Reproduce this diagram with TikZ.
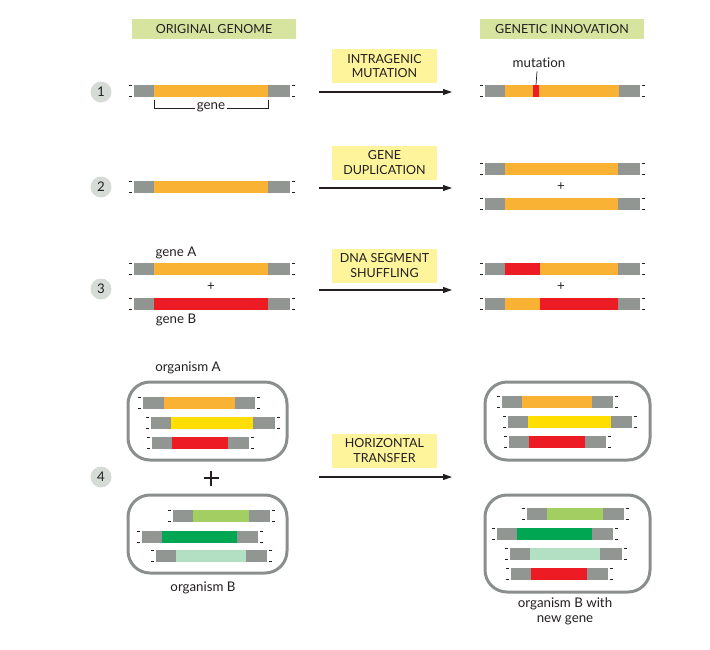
\documentclass[tikz,border=0pt]{standalone}
\usepackage{fontspec}
\setmainfont{Lato}[Ligatures=NoCommon]
\usetikzlibrary{arrows.meta,calc}
\definecolor{gbgray}{HTML}{919693}
\definecolor{gorange}{HTML}{F9B233}
\definecolor{gred}{HTML}{ED1C24}
\definecolor{gyellow}{HTML}{FFDE00}
\definecolor{glgreen}{HTML}{A3CF62}
\definecolor{ggreen}{HTML}{00A651}
\definecolor{gpale}{HTML}{B3DFC3}
\definecolor{headfill}{HTML}{D7E4A0}
\definecolor{labfill}{HTML}{FDF49B}
\definecolor{circfill}{HTML}{D5DCD6}
\definecolor{txt}{HTML}{231F20}
\definecolor{boxline}{HTML}{8A8F8C}
\tikzset{
  every node/.style={text=txt, font=\fontsize{13.3}{14.5}\selectfont},
  header/.style={fill=headfill, minimum width=164pt, minimum height=20pt, inner sep=0pt, font=\fontsize{12.5}{14}\selectfont},
  arrlabel/.style={fill=labfill, minimum width=105pt, minimum height=34pt, inner sep=0pt, align=center, font=\fontsize{12.5}{14.5}\selectfont},
  numcirc/.style={circle, fill=circfill, minimum size=21pt, inner sep=0pt},
  endmark/.style={draw=txt, line width=0.7pt},
  proc/.style={draw=txt, line width=1.1pt, -{Triangle[length=9pt,width=6pt]}},
  organism/.style={draw=boxline, line width=3pt, rounded corners=22pt},
}
% #1 y-centre, #2 x0, #3 gene start, #4 gene end, #5 x3, #6 colour
\newcommand\gbar[6]{%
  \fill[gbgray] (#2,#1-6) rectangle (#5,#1+6);
  \fill[#6] (#3,#1-6) rectangle (#4,#1+6);
  \draw[endmark] (#2-5,#1-5.5) -- ++(3,0) (#2-5,#1+5.5) -- ++(3,0);
  \draw[endmark] (#5+2,#1-5.5) -- ++(3,0) (#5+2,#1+5.5) -- ++(3,0);
}
\begin{document}
\begin{tikzpicture}[x=1pt,y=-1pt]
\useasboundingbox (0,0) rectangle (710,649);

% headers
\node[header] (h1) at (214,29) {ORIGINAL GENOME};
\node[header] (h2) at (562,29) {GENETIC INNOVATION};

% numbers
\node[numcirc] (n1) at (101,92) {1};
\node[numcirc] (n2) at (101,187) {2};
\node[numcirc] (n3) at (101,289) {3};
\node[numcirc] (n4) at (101,477) {4};

% process labels and arrows
\node[arrlabel] (l1) at (384.5,66) {INTRAGENIC\\MUTATION};
\node[arrlabel] (l2) at (384.5,162.5) {GENE\\DUPLICATION};
\node[arrlabel] (l3) at (384.5,265.5) {DNA SEGMENT\\SHUFFLING};
\node[arrlabel] (l4) at (384.5,450.5) {HORIZONTAL\\TRANSFER};
\coordinate (a1s) at (319,92);  \coordinate (a1e) at (452,92);
\coordinate (a2s) at (319,188); \coordinate (a2e) at (452,188);
\coordinate (a3s) at (319,290); \coordinate (a3e) at (452,290);
\coordinate (a4s) at (319,477); \coordinate (a4e) at (452,477);
\draw[proc] (a1s) -- (a1e);
\draw[proc] (a2s) -- (a2e);
\draw[proc] (a3s) -- (a3e);
\draw[proc] (a4s) -- (a4e);

% row 1
\gbar{91}{134}{154}{268}{290}{gorange}
\draw[txt, line width=0.8pt] (154,100) -- (154,108) -- (268,108) -- (268,100);
\node[fill=white, inner sep=2pt] (gene) at (211,107) {gene};
\gbar{91}{485}{505}{619}{640}{gorange}
\fill[gred] (533,85) rectangle (539,97);
\node (mut) at (539,63) {mutation};
\coordinate (mutpt) at (536,85);
\draw[txt, line width=0.7pt] (mut.south) ++(-2,0) -- (mutpt);

% row 2
\gbar{186.5}{134}{154}{268}{290}{gorange}
\gbar{168.5}{485}{505}{618}{640}{gorange}
\gbar{203.5}{485}{505}{618}{640}{gorange}
\node (p2) at (561,187) {+};

% row 3
\node (gA) at (176,253) {gene A};
\gbar{269}{134}{154}{268}{290}{gorange}
\node (p3l) at (211,287) {+};
\gbar{304}{134}{154}{268}{290}{gred}
\node (gB) at (176,320) {gene B};
\gbar{269}{485}{505}{618}{640}{gorange}
\fill[gred] (505,263) rectangle (540,275);
\node (p3r) at (561,287) {+};
\gbar{304}{485}{505}{618}{640}{gred}
\fill[gorange] (505,298) rectangle (540,310);

% row 4 left
\node (oA) at (188,368) {organism A};
\draw[organism] (128,382) rectangle (287,460);
\gbar{402.5}{143}{164}{235}{255}{gorange}
\gbar{422.5}{151}{171}{253}{275}{gyellow}
\gbar{442.5}{152}{172}{228}{249}{gred}
\coordinate (bp) at (211,478);
\draw[txt, line width=2.6pt] ($(bp)+(-7.5,0)$) -- ($(bp)+(7.5,0)$) ($(bp)+(0,-7.5)$) -- ($(bp)+(0,7.5)$);
\draw[organism] (128,495) rectangle (287,573);
\gbar{516}{173}{193}{249}{270}{glgreen}
\gbar{536.5}{142}{162}{237}{258}{ggreen}
\gbar{556}{156}{176}{246}{267}{gpale}
\node (oB) at (203,588) {organism B};

% row 4 right
\draw[organism] (485,382) rectangle (650,460);
\gbar{401.5}{502}{522}{592}{613}{gorange}
\gbar{421.5}{508}{528}{611}{632}{gyellow}
\gbar{442}{509}{529}{585}{606}{gred}
\draw[organism] (485,495) rectangle (650,592);
\gbar{514}{527}{547}{603}{624}{glgreen}
\gbar{534}{497}{517}{592}{613}{ggreen}
\gbar{553.5}{510}{530}{600}{622}{gpale}
\gbar{573.5}{511}{531}{587}{608}{gred}
\node[align=center] (oBn) at (565,611.5) {organism B with\\new gene};
\end{tikzpicture}
\end{document}
